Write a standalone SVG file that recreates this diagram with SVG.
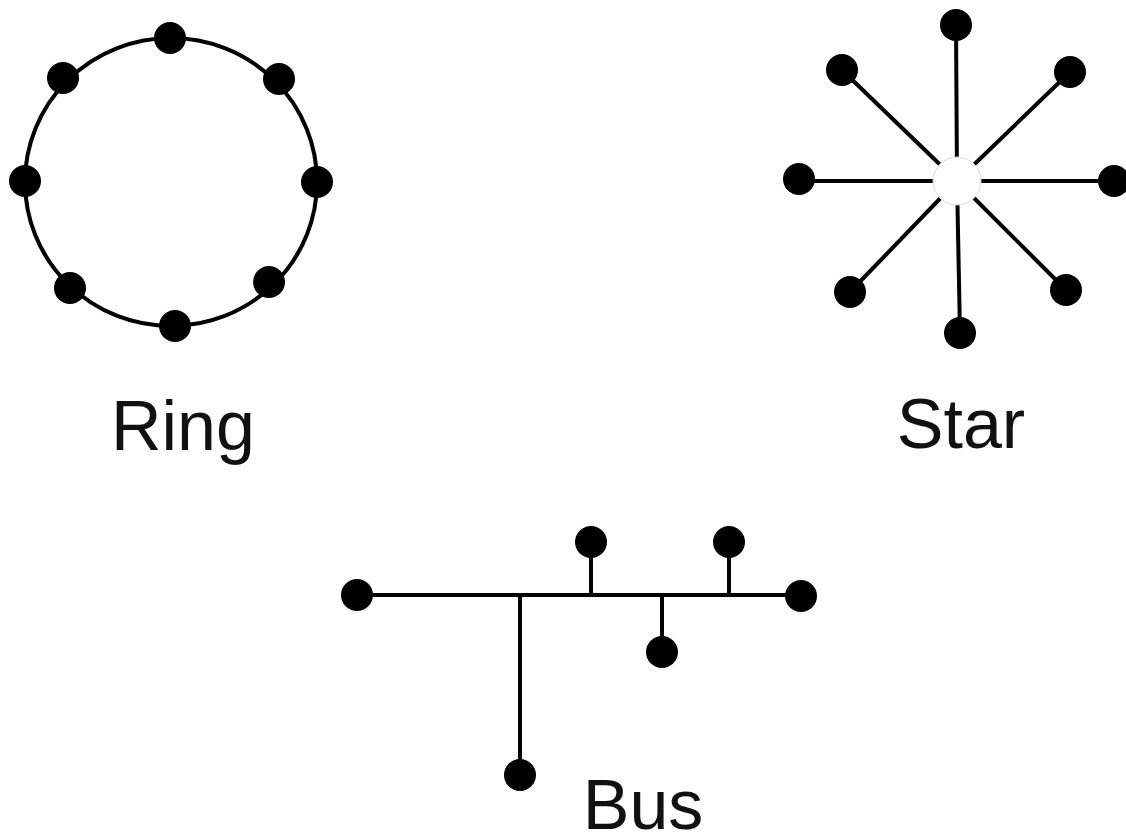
<svg xmlns="http://www.w3.org/2000/svg" width="1126" height="834" viewBox="0 0 1126 834">
<style>
.ln{stroke:#000;stroke-width:4;fill:none}
.nd{fill:#000}
.hub{fill:#fff;stroke:#ddd;stroke-width:1}
.lb{font-family:"Liberation Sans",Arial,sans-serif;font-size:70px;fill:#111;text-anchor:middle}
</style>
<rect width="1126" height="834" fill="#fff"/>
<g id="connectors">
<ellipse class="ln" cx="171" cy="182" rx="146" ry="144"/>
<line class="ln" x1="957" y1="181" x2="956" y2="25"/>
<line class="ln" x1="957" y1="181" x2="842" y2="70"/>
<line class="ln" x1="957" y1="181" x2="1070" y2="72"/>
<line class="ln" x1="957" y1="181" x2="799" y2="181"/>
<line class="ln" x1="957" y1="181" x2="1114" y2="181"/>
<line class="ln" x1="957" y1="181" x2="850" y2="292"/>
<line class="ln" x1="957" y1="181" x2="1066" y2="290"/>
<line class="ln" x1="957" y1="181" x2="960" y2="333"/>
<line class="ln" x1="357" y1="595" x2="801" y2="595"/>
<line class="ln" x1="591" y1="595" x2="591" y2="542"/>
<line class="ln" x1="729" y1="595" x2="729" y2="542"/>
<line class="ln" x1="520" y1="595" x2="520" y2="775"/>
<line class="ln" x1="662" y1="595" x2="662" y2="652"/>
</g>
<g id="ring">
<circle class="nd" cx="170" cy="38" r="16"/>
<circle class="nd" cx="63" cy="78" r="16"/>
<circle class="nd" cx="279" cy="79" r="16"/>
<circle class="nd" cx="25" cy="181" r="16"/>
<circle class="nd" cx="317" cy="182" r="16"/>
<circle class="nd" cx="70" cy="288" r="16"/>
<circle class="nd" cx="269" cy="282" r="16"/>
<circle class="nd" cx="175" cy="326" r="16"/>
<text class="lb" x="183" y="450">Ring</text>
</g>
<g id="star">
<circle class="hub" cx="957" cy="181" r="24"/>
<circle class="nd" cx="956" cy="25" r="16"/>
<circle class="nd" cx="842" cy="70" r="16"/>
<circle class="nd" cx="1070" cy="72" r="16"/>
<circle class="nd" cx="799" cy="179" r="16"/>
<circle class="nd" cx="1114" cy="181" r="16"/>
<circle class="nd" cx="850" cy="292" r="16"/>
<circle class="nd" cx="1066" cy="290" r="16"/>
<circle class="nd" cx="960" cy="333" r="16"/>
<text class="lb" x="961" y="448">Star</text>
</g>
<g id="bus">
<circle class="nd" cx="357" cy="595" r="16"/>
<circle class="nd" cx="801" cy="596" r="16"/>
<circle class="nd" cx="591" cy="542" r="16"/>
<circle class="nd" cx="729" cy="542" r="16"/>
<circle class="nd" cx="520" cy="775" r="16"/>
<circle class="nd" cx="662" cy="652" r="16"/>
<text class="lb" x="643" y="829">Bus</text>
</g>
</svg>
